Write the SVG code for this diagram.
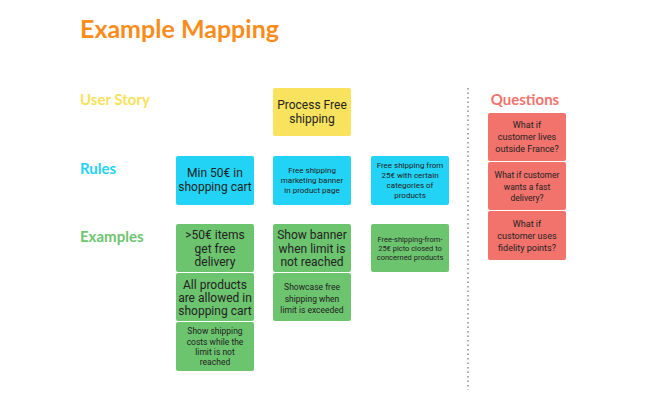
<svg xmlns="http://www.w3.org/2000/svg" width="650" height="400" viewBox="0 0 650 400">
<style>
.h{font-family:"Comic Sans MS","Lato","DejaVu Sans",sans-serif;font-weight:bold}
.t{font-family:Roboto,"Liberation Sans",sans-serif;fill:#222;text-anchor:middle}
.y{fill:#f9e35e}.b{fill:#22d3f5}.g{fill:#6dc46f}.r{fill:#f2726c}
rect{rx:2}
</style>
<rect width="650" height="400" fill="#fff"/>
<text class="h" x="80" y="38" font-size="25" fill="#fb8c1c">Example Mapping</text>
<text class="h" x="80" y="105" font-size="15" fill="#f7e25a">User Story</text>
<text class="h" x="80" y="174" font-size="15" fill="#22d3f5">Rules</text>
<text class="h" x="80" y="242" font-size="15" fill="#6dc46f">Examples</text>
<text class="h" x="525" y="105" font-size="15" fill="#f2726c" text-anchor="middle">Questions</text>
<g id="connectors"><line x1="468" y1="88" x2="468" y2="390" stroke="#555" stroke-dasharray="1.5 3"/></g>
<g id="story"><rect class="y" x="273" y="88" width="78" height="48"/><text class="t" font-size="12"><tspan x="312" y="109">Process Free</tspan><tspan x="312" y="123">shipping</tspan></text></g>
<g id="rule1"><rect class="b" x="176" y="156" width="78" height="49"/><text class="t" font-size="12"><tspan x="215" y="177">Min 50€ in</tspan><tspan x="215" y="191">shopping cart</tspan></text></g>
<g id="rule2"><rect class="b" x="273" y="156" width="78" height="49"/><text class="t" font-size="8"><tspan x="312" y="173">Free shipping</tspan><tspan x="312" y="183">marketing banner</tspan><tspan x="312" y="193">in product page</tspan></text></g>
<g id="rule3"><rect class="b" x="371" y="156" width="78" height="49"/><text class="t" font-size="8"><tspan x="410" y="168">Free shipping from</tspan><tspan x="410" y="178">25€ with certain</tspan><tspan x="410" y="188">categories of</tspan><tspan x="410" y="198">products</tspan></text></g>
<g id="ex1"><rect class="g" x="176" y="224" width="78" height="48"/><text class="t" font-size="12"><tspan x="215" y="239">&gt;50€ items</tspan><tspan x="215" y="253">get free</tspan><tspan x="215" y="266">delivery</tspan></text></g>
<g id="ex2"><rect class="g" x="176" y="273" width="78" height="48"/><text class="t" font-size="12"><tspan x="215" y="289">All products</tspan><tspan x="215" y="302">are allowed in</tspan><tspan x="215" y="315">shopping cart</tspan></text></g>
<g id="ex3"><rect class="g" x="176" y="322" width="78" height="49"/><text class="t" font-size="8.5"><tspan x="215" y="334">Show shipping</tspan><tspan x="215" y="345">costs while the</tspan><tspan x="215" y="355">limit is not</tspan><tspan x="215" y="365">reached</tspan></text></g>
<g id="ex4"><rect class="g" x="273" y="224" width="78" height="48"/><text class="t" font-size="12"><tspan x="312" y="239">Show banner</tspan><tspan x="312" y="253">when limit is</tspan><tspan x="312" y="266">not reached</tspan></text></g>
<g id="ex5"><rect class="g" x="273" y="273" width="78" height="48"/><text class="t" font-size="8.5"><tspan x="312" y="290">Showcase free</tspan><tspan x="312" y="302">shipping when</tspan><tspan x="312" y="313">limit is exceeded</tspan></text></g>
<g id="ex6"><rect class="g" x="371" y="224" width="78" height="48"/><text class="t" font-size="7.5"><tspan x="410" y="242">Free-shipping-from-</tspan><tspan x="410" y="251">25€ picto closed to</tspan><tspan x="410" y="260">concerned products</tspan></text></g>
<g id="q1"><rect class="r" x="488" y="113" width="78" height="48"/><text class="t" font-size="9"><tspan x="527" y="128">What if</tspan><tspan x="527" y="140">customer lives</tspan><tspan x="527" y="152">outside France?</tspan></text></g>
<g id="q2"><rect class="r" x="488" y="162" width="78" height="48"/><text class="t" font-size="8.5"><tspan x="527" y="178">What if customer</tspan><tspan x="527" y="190">wants a fast</tspan><tspan x="527" y="201">delivery?</tspan></text></g>
<g id="q3"><rect class="r" x="488" y="211" width="78" height="49"/><text class="t" font-size="9"><tspan x="527" y="227">What if</tspan><tspan x="527" y="239">customer uses</tspan><tspan x="527" y="251">fidelity points?</tspan></text></g>
</svg>
